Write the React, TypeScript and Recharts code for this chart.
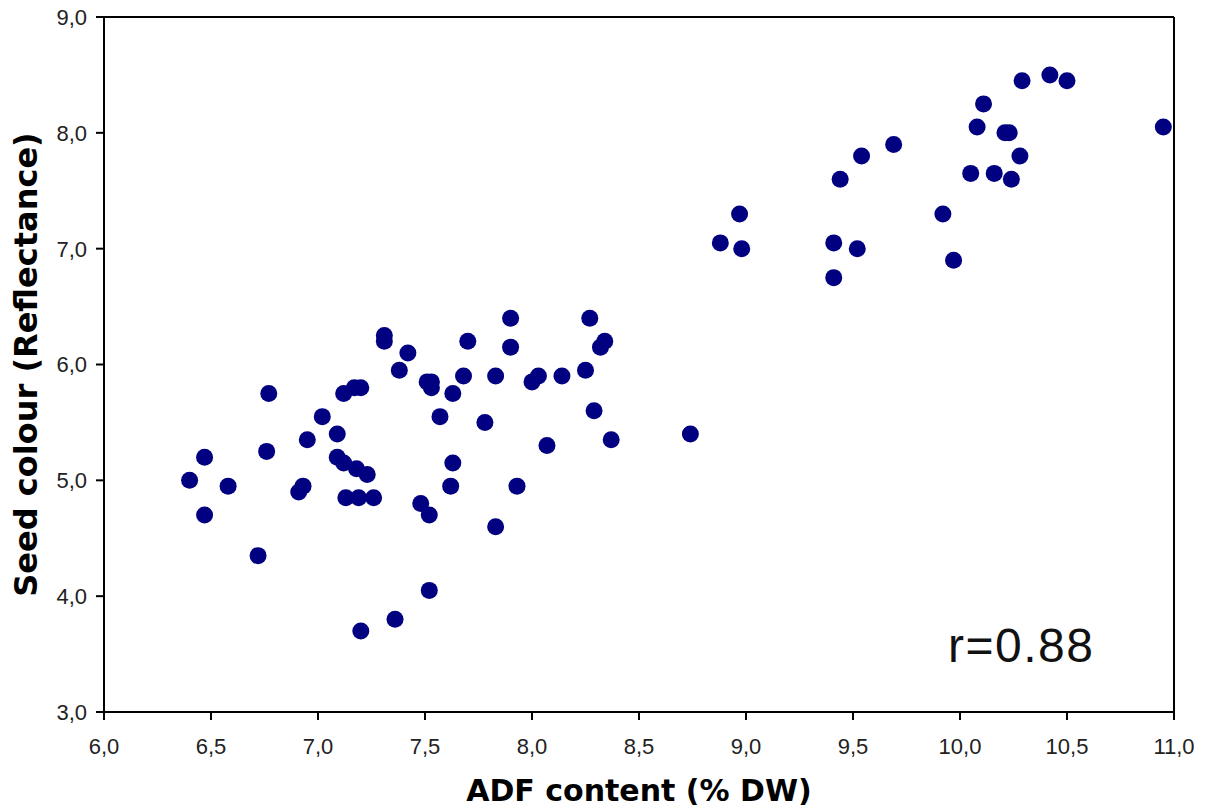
import React from 'react';
import { ScatterChart, Scatter, XAxis, YAxis, ReferenceLine, Label } from 'recharts';

// ADF content (% DW) per sample
const adfContent = [
  6.40, 6.47, 6.47, 6.58, 6.72, 6.77, 6.76, 6.91, 6.93, 6.95,
  7.02, 7.09, 7.09, 7.12, 7.12, 7.17, 7.20, 7.18, 7.23, 7.13,
  7.19, 7.26, 7.20, 7.31, 7.31, 7.38, 7.42, 7.36, 7.48, 7.52,
  7.52, 7.51, 7.53, 7.53, 7.57, 7.62, 7.63, 7.63, 7.68, 7.70,
  7.78, 7.83, 7.83, 7.90, 7.90, 7.93, 8.00, 8.03, 8.07, 8.14,
  8.25, 8.27, 8.29, 8.32, 8.34, 8.37, 8.74, 8.88, 8.97, 8.98,
  9.41, 9.41, 9.44, 9.52, 9.54, 9.69, 9.92, 9.97, 10.05, 10.08,
  10.11, 10.21, 10.23, 10.16, 10.24, 10.28, 10.29, 10.42, 10.50, 10.95,
];

// Seed colour (Reflectance) per sample
const seedColour = [
  5.00, 5.20, 4.70, 4.95, 4.35, 5.75, 5.25, 4.90, 4.95, 5.35,
  5.55, 5.40, 5.20, 5.15, 5.75, 5.80, 5.80, 5.10, 5.05, 4.85,
  4.85, 4.85, 3.70, 6.20, 6.25, 5.95, 6.10, 3.80, 4.80, 4.05,
  4.70, 5.85, 5.85, 5.80, 5.55, 4.95, 5.15, 5.75, 5.90, 6.20,
  5.50, 5.90, 4.60, 6.40, 6.15, 4.95, 5.85, 5.90, 5.30, 5.90,
  5.95, 6.40, 5.60, 6.15, 6.20, 5.35, 5.40, 7.05, 7.30, 7.00,
  6.75, 7.05, 7.60, 7.00, 7.80, 7.90, 7.30, 6.90, 7.65, 8.05,
  8.25, 8.00, 8.00, 7.65, 7.60, 7.80, 8.45, 8.50, 8.45, 8.05,
];

const xTicks = [6, 6.5, 7, 7.5, 8, 8.5, 9, 9.5, 10, 10.5, 11];
const yTicks = [3, 4, 5, 6, 7, 8, 9];

const points = adfContent.map((x, i) => ({ x, y: seedColour[i] }));

const fmt = (v: number) => v.toFixed(1).replace('.', ',');

const sans = '"Liberation Sans", Arial, sans-serif';
const titleFont = '"DejaVu Sans", Verdana, sans-serif';

const XTick = (props: any) => (
  <text x={props.x} y={props.y} dy="0.71em" textAnchor="middle"
    style={{ fontFamily: sans, fontSize: 22, fill: '#222' }}>
    {fmt(props.payload.value)}
  </text>
);

const YTick = (props: any) => (
  <text x={props.x} y={props.y} dy="0.36em" textAnchor="end"
    style={{ fontFamily: sans, fontSize: 22, fill: '#222' }}>
    {fmt(props.payload.value)}
  </text>
);

export default function App() {
  return (
    <div style={{ position: 'absolute', left: 0, top: 0, background: '#fff' }}>
      <ScatterChart width={1211} height={809} margin={{ top: 17, right: 37, left: 0, bottom: 0 }}>
        <XAxis
          type="number"
          dataKey="x"
          domain={[6, 11]}
          ticks={xTicks}
          height={97}
          tick={<XTick />}
          tickSize={8}
          tickMargin={18}
          axisLine={{ stroke: '#000', strokeWidth: 2 }}
          tickLine={{ stroke: '#000', strokeWidth: 2 }}
        >
          <Label
            value="ADF content (% DW)"
            position="insideBottom"
            offset={8}
            style={{ fontFamily: titleFont, fontWeight: 'bold', fontSize: 30, fill: '#000' }}
          />
        </XAxis>
        <YAxis
          type="number"
          dataKey="y"
          domain={[3, 9]}
          ticks={yTicks}
          width={104}
          tick={<YTick />}
          tickSize={8}
          tickMargin={9}
          axisLine={{ stroke: '#000', strokeWidth: 2 }}
          tickLine={{ stroke: '#000', strokeWidth: 2 }}
        >
          <Label
            value="Seed colour (Reflectance)"
            position="insideLeft"
            angle={-90}
            offset={26}
            style={{ fontFamily: titleFont, fontWeight: 'bold', fontSize: 32, fill: '#000', textAnchor: 'middle' }}
          />
        </YAxis>
        <ReferenceLine y={9} stroke="#000" strokeWidth={2} />
        <ReferenceLine x={11} stroke="#000" strokeWidth={2} />
        <Scatter
          data={points}
          isAnimationActive={false}
          shape={(p: any) => <circle cx={p.cx} cy={p.cy} r={8.5} fill="#000080" />}
        />
        <text
          x={948}
          y={662}
          style={{ fontFamily: sans, fontSize: 48, letterSpacing: 1.5, fill: '#111' }}
        >
          r=0.88
        </text>
      </ScatterChart>
    </div>
  );
}
